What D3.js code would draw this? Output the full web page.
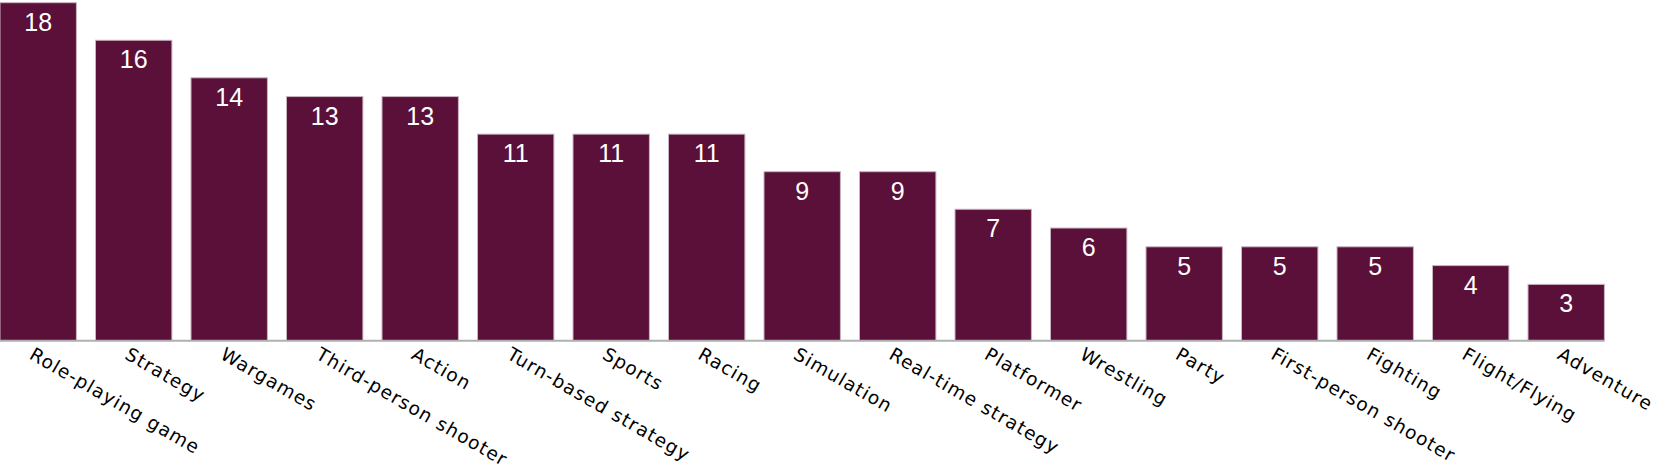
<!DOCTYPE html>
<html>
<head>
<meta charset="utf-8">
<script src="https://cdn.jsdelivr.net/npm/d3@7"></script>
<style>
  html, body { margin: 0; padding: 0; background: #fff; }
  svg { display: block; }
</style>
</head>
<body>
<svg id="chart" width="1661" height="468"></svg>
<script>
const categories = ["Role-playing game", "Strategy", "Wargames", "Third-person shooter", "Action",
  "Turn-based strategy", "Sports", "Racing", "Simulation", "Real-time strategy", "Platformer",
  "Wrestling", "Party", "First-person shooter", "Fighting", "Flight/Flying", "Adventure"];
const values = [18, 16, 14, 13, 13, 11, 11, 11, 9, 9, 7, 6, 5, 5, 5, 4, 3];

const svg = d3.select("#chart");
const baseY = 340.7, topY = 2.7;
const x = d3.scaleBand().domain(categories).range([0, 1604.4]).paddingInner(0.2).paddingOuter(0);
const y = d3.scaleLinear().domain([0, 18]).range([baseY, topY]);

const g = svg.append("g");
g.selectAll("rect.bar").data(values).join("rect")
  .attr("class", "bar")
  .attr("x", (d, i) => x(categories[i]))
  .attr("y", d => y(d))
  .attr("width", x.bandwidth())
  .attr("height", d => baseY - y(d))
  .attr("fill", "#5b1039")
  .attr("stroke", "#c9b3bf")
  .attr("stroke-width", 1);

g.selectAll("text.val").data(values).join("text")
  .attr("class", "val")
  .attr("x", (d, i) => x(categories[i]) + x.bandwidth() / 2)
  .attr("y", d => y(d) + 28)
  .attr("text-anchor", "middle")
  .attr("fill", "#fff")
  .style("font-family", "Liberation Sans, Arial, sans-serif")
  .style("font-size", "25px")
  .text(d => d);

const axis = d3.axisBottom(x).tickSize(0).tickPadding(0);
const ax = svg.append("g").attr("transform", `translate(0,${baseY})`).call(axis);
ax.select(".domain").attr("stroke", "#b0b0b0").attr("stroke-width", 2).attr("d", `M0,0H1604.4`);
ax.selectAll(".tick text")
  .attr("text-anchor", "start")
  .attr("x", 0)
  .attr("y", 0)
  .attr("dy", 0)
  .attr("transform", "rotate(30) translate(0,20)")
  .attr("fill", "#000")
  .style("font-family", "DejaVu Sans, Verdana, sans-serif")
  .style("font-size", "18.5px")
  .style("letter-spacing", "1.2px");
</script>
</body>
</html>
